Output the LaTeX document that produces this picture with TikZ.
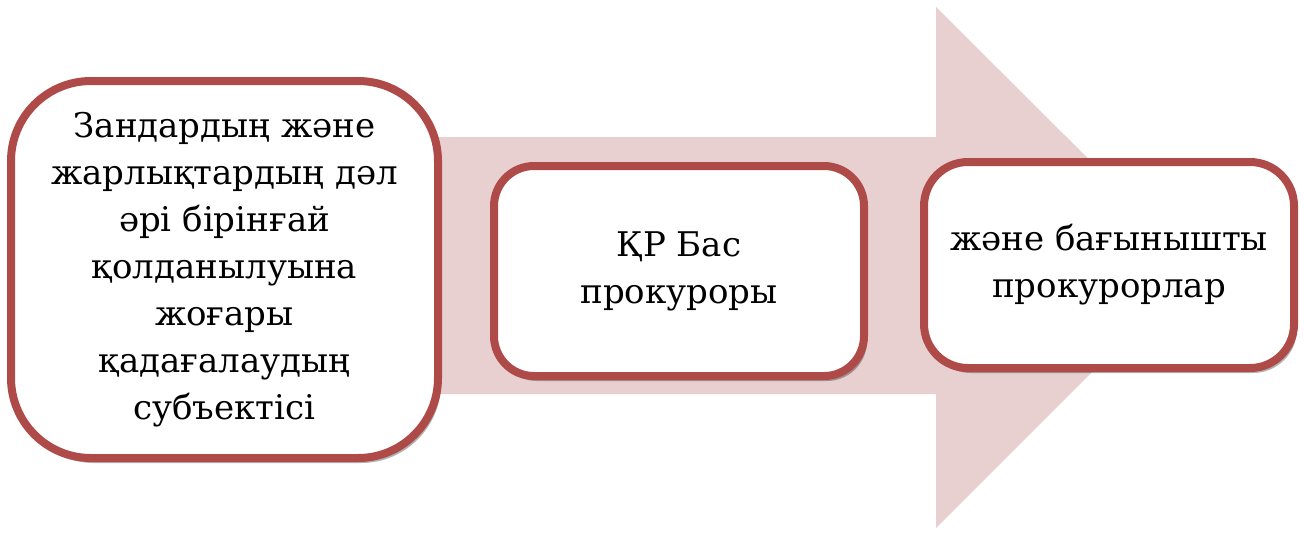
\documentclass[tikz,border=0pt]{standalone}
\usepackage{fontspec}
\setmainfont{DejaVu Serif}
\usetikzlibrary{shadows}
\definecolor{cardred}{RGB}{174,75,72}
\definecolor{arrowpink}{RGB}{232,208,208}
\tikzset{
  flowarrow/.style={fill=arrowpink, draw=none},
  card/.style={draw=cardred, line width=4pt, fill=white, align=center,
    inner sep=0pt, font=\fontsize{17}{23.5}\selectfont,
    drop shadow={shadow xshift=1.5pt, shadow yshift=-2.5pt, opacity=0.3, fill=black}},
}

\begin{document}
\begin{tikzpicture}[x=0.5pt, y=-0.5pt]
			%%%%% START %%%%%
			\useasboundingbox (0, 0) rectangle (1304, 532);
			
			% big arrow behind the cards
			\fill[flowarrow] (200, 137) -- (936, 137) -- (936, 7) -- (1197, 267)
			  -- (936, 528) -- (936, 394) -- (200, 394) -- cycle;
			
			% cards
			\node[card, rounded corners=40pt, minimum width=213.5pt, minimum height=188.5pt]
			  (subject) at (224.5, 269.5)
			  {Зандардың және\\жарлықтардың дәл\\әрі бірінғай\\қолданылуына\\жоғары\\қадағалаудың\\субъектісі};
			\node[card, rounded corners=20pt, minimum width=185pt, minimum height=105pt]
			  (general) at (679, 271) {ҚР Бас\\прокуроры};
			\node[card, rounded corners=22pt, minimum width=185pt, minimum height=103pt]
			  (lower) at (1109, 265) {және бағынышты\\прокурорлар};
			%%%%% END %%%%%
\end{tikzpicture}
\end{document}
